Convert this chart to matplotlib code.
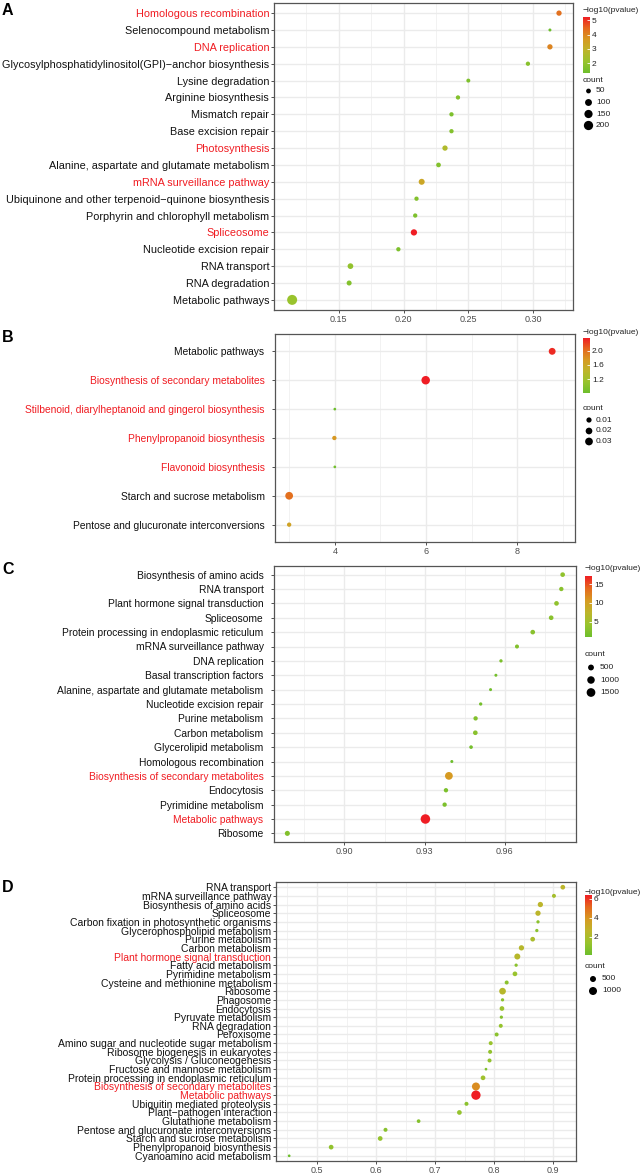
import numpy as np
import matplotlib
matplotlib.use('Agg')
import matplotlib.pyplot as plt
from matplotlib.colors import LinearSegmentedColormap, Normalize
from matplotlib.cm import ScalarMappable

plt.rcParams['font.family'] = ['Liberation Sans', 'DejaVu Sans']

# ---------------- panel A ----------------
terms_a = ['Homologous recombination', 'Selenocompound metabolism', 'DNA replication',
           'Glycosylphosphatidylinositol(GPI)\u2212anchor biosynthesis', 'Lysine degradation',
           'Arginine biosynthesis', 'Mismatch repair', 'Base excision repair', 'Photosynthesis',
           'Alanine, aspartate and glutamate metabolism', 'mRNA surveillance pathway',
           'Ubiquinone and other terpenoid\u2212quinone biosynthesis',
           'Porphyrin and chlorophyll metabolism', 'Spliceosome', 'Nucleotide excision repair',
           'RNA transport', 'RNA degradation', 'Metabolic pathways']
ratio_a = [0.320, 0.313, 0.313, 0.296, 0.250, 0.242, 0.237, 0.237, 0.232, 0.227, 0.214,
           0.210, 0.209, 0.208, 0.196, 0.159, 0.158, 0.114]
logp_a = [4.3, 1.3, 4.0, 1.8, 1.6, 1.7, 1.6, 1.7, 2.6, 1.7, 3.3, 1.7, 1.6, 5.23, 1.6, 2.0, 1.7, 2.1]
count_a = [59, 37, 59, 44, 41, 44, 44, 44, 59, 49, 74, 44, 44, 82, 44, 67, 54, 240]
red_a = ['Homologous recombination', 'DNA replication', 'Photosynthesis',
         'mRNA surveillance pathway', 'Spliceosome']

# ---------------- panel B ----------------
terms_b = ['Metabolic pathways', 'Biosynthesis of secondary metabolites',
           'Stilbenoid, diarylheptanoid and gingerol biosynthesis', 'Phenylpropanoid biosynthesis',
           'Flavonoid biosynthesis', 'Starch and sucrose metabolism',
           'Pentose and glucuronate interconversions']
ratio_b = [8.76, 5.99, 4.0, 3.99, 4.0, 3.0, 3.0]
logp_b = [2.3, 2.36, 0.81, 1.75, 0.85, 2.0, 1.65]
count_b = [0.0215, 0.0386, 0.0033, 0.0061, 0.0033, 0.030, 0.0061]
red_b = ['Biosynthesis of secondary metabolites',
         'Stilbenoid, diarylheptanoid and gingerol biosynthesis',
         'Phenylpropanoid biosynthesis', 'Flavonoid biosynthesis']

# ---------------- panel C ----------------
terms_c = ['Biosynthesis of amino acids', 'RNA transport', 'Plant hormone signal transduction',
           'Spliceosome', 'Protein processing in endoplasmic reticulum',
           'mRNA surveillance pathway', 'DNA replication', 'Basal transcription factors',
           'Alanine, aspartate and glutamate metabolism', 'Nucleotide excision repair',
           'Purine metabolism', 'Carbon metabolism', 'Glycerolipid metabolism',
           'Homologous recombination', 'Biosynthesis of secondary metabolites', 'Endocytosis',
           'Pyrimidine metabolism', 'Metabolic pathways', 'Ribosome']
ratio_c = [0.9817, 0.9812, 0.9794, 0.9774, 0.9705, 0.9646, 0.9586, 0.9567, 0.9547, 0.9510,
           0.9491, 0.9490, 0.9474, 0.9402, 0.9391, 0.9380, 0.9375, 0.9303, 0.8786]
logp_c = [3.5, 3.0, 3.5, 3.0, 3.0, 2.5, 2.0, 1.5, 1.2, 1.5, 2.5, 3.0, 1.5, 0.84, 10.7,
          2.0, 2.0, 17.25, 2.5]
count_c = [279, 241, 279, 279, 279, 211, 171, 167, 167, 171, 241, 279, 183, 167, 1091,
           241, 241, 1900, 342]
red_c = ['Biosynthesis of secondary metabolites', 'Metabolic pathways']

# ---------------- panel D ----------------
terms_d = ['RNA transport', 'mRNA surveillance pathway', 'Biosynthesis of amino acids',
           'Spliceosome', 'Carbon fixation in photosynthetic organisms',
           'Glycerophospholipid metabolism', 'Purine metabolism', 'Carbon metabolism',
           'Plant hormone signal transduction', 'Fatty acid metabolism', 'Pyrimidine metabolism',
           'Cysteine and methionine metabolism', 'Ribosome', 'Phagosome', 'Endocytosis',
           'Pyruvate metabolism', 'RNA degradation', 'Peroxisome',
           'Amino sugar and nucleotide sugar metabolism', 'Ribosome biogenesis in eukaryotes',
           'Glycolysis / Gluconeogenesis', 'Fructose and mannose metabolism',
           'Protein processing in endoplasmic reticulum', 'Biosynthesis of secondary metabolites',
           'Metabolic pathways', 'Ubiquitin mediated proteolysis', 'Plant\u2212pathogen interaction',
           'Glutathione metabolism', 'Pentose and glucuronate interconversions',
           'Starch and sucrose metabolism', 'Phenylpropanoid biosynthesis',
           'Cyanoamino acid metabolism']
ratio_d = [0.916, 0.901, 0.878, 0.874, 0.874, 0.872, 0.865, 0.846, 0.839, 0.837, 0.835,
           0.821, 0.814, 0.814, 0.813, 0.812, 0.811, 0.804, 0.794, 0.793, 0.792, 0.786,
           0.781, 0.769, 0.769, 0.753, 0.741, 0.672, 0.616, 0.607, 0.524, 0.453]
logp_d = [2.6, 1.8, 2.6, 2.6, 1.0, 1.0, 2.0, 2.4, 2.4, 1.0, 1.4, 1.0, 2.4, 1.0, 1.5, 0.8,
          1.3, 1.0, 1.4, 1.2, 1.2, 0.6, 1.6, 4.2, 6.4, 1.0, 1.3, 0.8, 0.9, 1.3, 1.2, 0.1]
count_d = [300, 233, 380, 380, 194, 194, 300, 380, 500, 194, 300, 233, 649, 194, 300, 194,
           233, 233, 233, 233, 233, 184, 300, 1000, 1450, 233, 300, 213, 233, 300, 300, 184]
red_d = ['Plant hormone signal transduction', 'Biosynthesis of secondary metabolites',
         'Metabolic pathways']

W, H = 642, 1173
fig = plt.figure(figsize=(W / 100, H / 100), dpi=100)
cmap = LinearSegmentedColormap.from_list(
    'gr', ['#6DBE2C', '#98C32D', '#BDB52B', '#D69A22', '#E5681E', '#EF1D24'])
RED = '#F01C22'


def to_fig(x0, y0, x1, y1):
    return [x0 / W, 1 - y1 / H, (x1 - x0) / W, (y1 - y0) / H]


def dot_area(c, cmin, cmax, dmin, dmax):
    # ggplot-like area scale, diameters given in pixels
    frac = (np.asarray(c, float) - cmin) / (cmax - cmin)
    d = dmin + (dmax - dmin) * np.sqrt(np.clip(frac, 0, 1))
    return (d * 0.72) ** 2


def draw_panel(box, terms, xs, logp, counts, reds, xlim, xticks, xlabels, xminor,
               drange, lab_size, lab_pad):
    ax = fig.add_axes(to_fig(*box))
    n = len(terms)
    ypos = np.arange(n, 0, -1)
    norm = Normalize(min(logp), max(logp))
    cmin, cmax = min(counts), max(counts)
    ax.scatter(xs, ypos, s=dot_area(counts, cmin, cmax, *drange), c=logp, cmap=cmap,
               norm=norm, linewidths=0, zorder=3)
    ax.set_xlim(xlim)
    ax.set_ylim(0.4, n + 0.6)
    ax.set_yticks(ypos)
    ax.set_yticklabels(terms)
    ax.set_xticks(xticks)
    ax.set_xticklabels(xlabels)
    ax.set_xticks(xminor, minor=True)
    ax.set_axisbelow(True)
    ax.grid(True, which='major', color='#EBEBEB', lw=1.0)
    ax.grid(True, which='minor', axis='x', color='#F0F0F0', lw=0.6)
    for sp in ax.spines.values():
        sp.set_color('#555555')
        sp.set_linewidth(0.9)
    ax.tick_params(which='major', length=2, width=0.6, color='#333333',
                   labelsize=6.5, labelcolor='#4D4D4D', pad=1.5)
    ax.tick_params(which='minor', length=0)
    ax.tick_params(axis='y', labelsize=lab_size, labelcolor='#111111', pad=lab_pad)
    for t in ax.get_yticklabels():
        if t.get_text() in reds:
            t.set_color(RED)
    return norm, (cmin, cmax)


ov = fig.add_axes([0, 0, 1, 1], zorder=5)
ov.set_xlim(0, W)
ov.set_ylim(H, 0)
ov.axis('off')


def draw_legend(norm, cbox, cticks, crange, drange, breaks, blabels, title_y, count_y,
                entry_y, dot_x, text_x):
    x0 = cbox[0]
    ov.text(x0, title_y, '\u2212log10(pvalue)', fontsize=6, va='center', color='#222222')
    cax = fig.add_axes(to_fig(*cbox))
    cb = fig.colorbar(ScalarMappable(norm=norm, cmap=cmap), cax=cax)
    cb.outline.set_visible(False)
    cb.set_ticks(cticks)
    cax.tick_params(length=2, width=0.6, color='white', direction='in',
                    labelsize=6, labelcolor='#222222', pad=1.5)
    ov.text(x0, count_y, 'count', fontsize=6, va='center', color='#222222')
    ov.scatter([dot_x] * len(breaks), entry_y,
               s=dot_area(breaks, crange[0], crange[1], *drange), color='black', linewidths=0)
    for y, lab in zip(entry_y, blabels):
        ov.text(text_x, y, lab, fontsize=6, va='center', color='#222222')


# A
norm, cr = draw_panel((274, 3, 573, 310), terms_a, ratio_a, logp_a, count_a, red_a,
                      (0.100, 0.3308), [0.15, 0.20, 0.25, 0.30], ['0.15', '0.20', '0.25', '0.30'],
                      [0.125, 0.175, 0.225, 0.275, 0.325], (3, 10), 7.8, 1.5)
draw_legend(norm, (583, 17, 590, 73), [2, 3, 4, 5], cr, (3, 10), [50, 100, 150, 200],
            ['50', '100', '150', '200'], 10, 80, [91, 102.5, 114, 125.5], 588.5, 596)

# B
norm, cr = draw_panel((275, 334, 575, 542), terms_b, ratio_b, logp_b, count_b, red_b,
                      (2.69, 9.26), [4, 6, 8], ['4', '6', '8'], [3, 5, 7, 9], (2.7, 8.5), 7.4, 5.5)
draw_legend(norm, (583, 338, 590, 393), [1.2, 1.6, 2.0], cr, (2.7, 8.5), [0.01, 0.02, 0.03],
            ['0.01', '0.02', '0.03'], 333, 409, [420, 431, 441.5], 589, 596)

# C
norm, cr = draw_panel((274, 566, 576, 842), terms_c, ratio_c, logp_c, count_c, red_c,
                      (0.8736, 0.9867), [0.90, 0.93, 0.96], ['0.90', '0.93', '0.96'],
                      [0.885, 0.915, 0.945, 0.975], (3.0, 9.5), 7.4, 5.5)
draw_legend(norm, (585, 576, 592, 637), [5, 10, 15], cr, (3.0, 9.5), [500, 1000, 1500],
            ['500', '1000', '1500'], 568, 655, [667.5, 680, 692.5], 591, 600)

# D
norm, cr = draw_panel((276, 882, 576, 1161), terms_d, ratio_d, logp_d, count_d, red_d,
                      (0.4307, 0.9383), [0.5, 0.6, 0.7, 0.8, 0.9],
                      ['0.5', '0.6', '0.7', '0.8', '0.9'],
                      [0.45, 0.55, 0.65, 0.75, 0.85], (2.7, 9.3), 7.5, 1.5)
draw_legend(norm, (585, 895, 592, 955), [2, 4, 6], cr, (2.7, 9.3), [500, 1000],
            ['500', '1000'], 892, 966, [979, 991], 593, 602)

# panel letters
for lab, y in zip(['A', 'B', 'C', 'D'], [3, 330, 562, 880]):
    ov.text(2, y, lab, fontsize=11.5, fontweight='bold', va='top', ha='left')

fig.savefig('out.png', dpi=100)
